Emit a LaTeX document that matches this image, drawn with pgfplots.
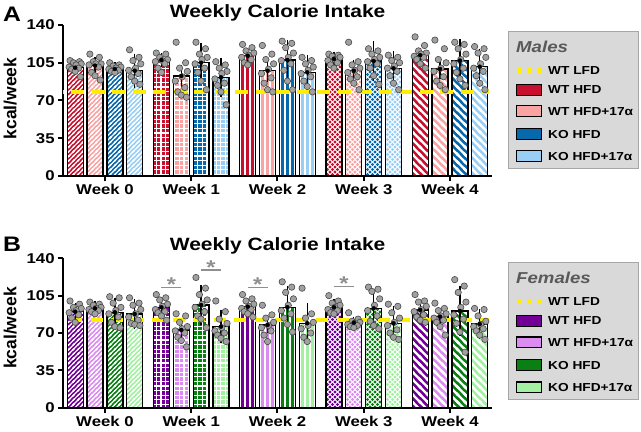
\documentclass[border=0pt]{standalone}
\usepackage{fontspec}
\setmainfont{Liberation Sans}[FakeStretch=1.18]
\newfontfamily\plainfont{Liberation Sans}
\usepackage{pgfplots}
\pgfplotsset{compat=1.18}
\usepackage{pgfplotstable}
\usetikzlibrary{patterns}

\definecolor{mA}{HTML}{C8102E}
\definecolor{mB}{HTML}{F9A3A3}
\definecolor{mC}{HTML}{0868AC}
\definecolor{mD}{HTML}{9ACFF5}
\definecolor{fA}{HTML}{720096}
\definecolor{fB}{HTML}{DC8CF0}
\definecolor{fC}{HTML}{0A7F14}
\definecolor{fD}{HTML}{A3F0A3}
\definecolor{ylw}{HTML}{FFEE00}
\definecolor{dotfill}{HTML}{A0A0A0}
\definecolor{dotdraw}{HTML}{484848}
\definecolor{sigc}{HTML}{8F8F8F}
\definecolor{legfill}{HTML}{D9D9D9}
\definecolor{legdraw}{HTML}{A6A6A6}
\definecolor{legtitle}{HTML}{595959}

\newcommand{\tickfont}{\bfseries\fontsize{14.2bp}{16bp}\selectfont}
\newcommand{\titlefont}{\bfseries\fontsize{17.8bp}{20bp}\selectfont}
\newcommand{\ylabfont}{\plainfont\bfseries\fontsize{17.5bp}{20bp}\selectfont}
\newcommand{\legfont}{\bfseries\fontsize{11.6bp}{13bp}\selectfont}
\newcommand{\legtitlefont}{\bfseries\itshape\fontsize{15.8bp}{18bp}\selectfont}
\newcommand{\panelfont}{\bfseries\fontsize{21bp}{24bp}\selectfont}
\newcommand{\starfont}{\bfseries\fontsize{20bp}{22bp}\selectfont}

% ---- custom form-only patterns ----
% week 0: thin "/" stripes
\pgfdeclarepatternformonly{wkA}{\pgfqpoint{-1bp}{-1bp}}{\pgfqpoint{5.6bp}{5.6bp}}{\pgfqpoint{4.6bp}{4.6bp}}{%
 \pgfsetlinewidth{1.2bp}%
 \pgfpathmoveto{\pgfqpoint{-1bp}{-1bp}}\pgfpathlineto{\pgfqpoint{5.6bp}{5.6bp}}%
 \pgfpathmoveto{\pgfqpoint{-1bp}{3.6bp}}\pgfpathlineto{\pgfqpoint{1bp}{5.6bp}}%
 \pgfpathmoveto{\pgfqpoint{3.6bp}{-1bp}}\pgfpathlineto{\pgfqpoint{5.6bp}{1bp}}%
 \pgfusepath{stroke}}
% week 1: grid
\pgfdeclarepatternformonly{wkB}{\pgfqpoint{-1bp}{-1bp}}{\pgfqpoint{5.6bp}{5.6bp}}{\pgfqpoint{4.6bp}{4.6bp}}{%
 \pgfsetlinewidth{1.05bp}%
 \pgfpathmoveto{\pgfqpoint{0bp}{-1bp}}\pgfpathlineto{\pgfqpoint{0bp}{5.6bp}}%
 \pgfpathmoveto{\pgfqpoint{-1bp}{0bp}}\pgfpathlineto{\pgfqpoint{5.6bp}{0bp}}%
 \pgfusepath{stroke}}
% week 2: vertical lines
\pgfdeclarepatternformonly{wkC}{\pgfqpoint{-1bp}{-1bp}}{\pgfqpoint{6bp}{6bp}}{\pgfqpoint{5bp}{5bp}}{%
 \pgfsetlinewidth{1.25bp}%
 \pgfpathmoveto{\pgfqpoint{0bp}{-1bp}}\pgfpathlineto{\pgfqpoint{0bp}{6bp}}%
 \pgfusepath{stroke}}
% week 3: staggered dots
\pgfdeclarepatternformonly{wkD}{\pgfqpoint{-2bp}{-2bp}}{\pgfqpoint{7bp}{7bp}}{\pgfqpoint{5bp}{5bp}}{%
 \pgfpathcircle{\pgfqpoint{0bp}{0bp}}{1.65bp}%
 \pgfpathcircle{\pgfqpoint{2.5bp}{2.5bp}}{1.65bp}%
 \pgfusepath{fill}}
% week 4: wide "\" stripes
\pgfdeclarepatternformonly{wkE}{\pgfqpoint{-1.5bp}{-1.5bp}}{\pgfqpoint{9bp}{9bp}}{\pgfqpoint{7.5bp}{7.5bp}}{%
 \pgfsetlinewidth{2.3bp}%
 \pgfpathmoveto{\pgfqpoint{-1.5bp}{9bp}}\pgfpathlineto{\pgfqpoint{9bp}{-1.5bp}}%
 \pgfpathmoveto{\pgfqpoint{-1.5bp}{1.5bp}}\pgfpathlineto{\pgfqpoint{1.5bp}{-1.5bp}}%
 \pgfpathmoveto{\pgfqpoint{6bp}{9bp}}\pgfpathlineto{\pgfqpoint{9bp}{6bp}}%
 \pgfusepath{stroke}}

% \mybar{x}{y}{fill colour}{pattern}{pattern colour}
\newcommand{\mybar}[5]{%
 \addplot[ybar, bar width=0.185, bar shift=0pt, draw=none, fill=#3, forget plot] coordinates {(#1,#2)};
 \addplot[ybar, bar width=0.185, bar shift=0pt, draw=black, line width=1.3bp,
   pattern=#4, pattern color=#5, forget plot] coordinates {(#1,#2)};}

\pgfplotsset{
 panel/.style={
  scale only axis, width=428.7bp,
  xmin=-0.483, xmax=4.487, ymin=0, ymax=140,
  axis x line*=bottom, axis y line*=left,
  axis line style={line width=2bp, -},
  xtick={0,1,2,3,4}, xticklabels={Week 0,Week 1,Week 2,Week 3,Week 4},
  ytick={0,35,70,105,140},
  major tick length=5.5bp, tick align=outside,
  tick style={line width=2bp, black},
  xticklabel style={font=\tickfont, inner sep=0pt, yshift=-3bp},
  yticklabel style={font=\tickfont, inner sep=0pt, xshift=-3bp},
  /pgf/number format/assume math mode=true,
  every axis title/.style={at={(0.5,1)}, anchor=base, font=\titlefont},
  ylabel style={anchor=center, font=\ylabfont},
  clip=false,
 },
 dotst/.style={only marks, mark=*, mark size=3.2bp,
   mark options={fill=dotfill, draw=dotdraw, line width=0.6bp}, forget plot},
 errst/.style={only marks, mark=none, forget plot,
   error bars/.cd, y dir=both, y explicit,
   error bar style={draw=black, line width=1.3bp},
   error mark options={draw=black, line width=1.3bp, mark size=4bp}},
}

% x = bar centre, m = mean, e = error, d1..d10 = individual animals
\pgfplotstableread{
x      m     e    d1  d2  d3  d4  d5  d6  d7  d8  d9  d10
-0.345 100.4 3.0  107 106 105 104 103 101 100 99  97  92
-0.115 102.3 4.0  113 110 106 104 104 103 101 96  93  89
0.115  99.2  3.0  105 103 102 101 100 99  98  97  96  nan
0.345  97.6  12.0 117 110 107 104 100 98  95  92  88  85
0.655  107.5 3.0  114 113 110 108 107 106 104 100 96  nan
0.885  92.7  6.5  124 105 100 97  92  88  82  78  75  73
1.115  105.0 15.0 124 118 113 110 108 104 100 96  88  80
1.345  91.5  14.5 106 103 100 97  95  90  86  84  78  66
1.655  111.5 3.0  122 119 116 114 112 110 108 105 103 nan
1.885  97.6  6.5  121 113 108 104 99  95  91  86  80  78
2.115  107.5 15.0 125 123 119 114 110 107 104 98  88  80
2.345  96.1  12.0 110 107 104 101 98  95  92  88  83  78
2.655  108.5 3.0  113 112 111 110 108 107 105 103 100 nan
2.885  97.6  6.5  124 106 103 100 98  96  92  90  86  80
3.115  106.6 15.0 118 116 113 110 108 106 104 100 93  85
3.345  99.8  12.0 112 110 107 105 102 100 97  93  86  80
3.655  112.0 3.0  129 121 116 114 113 111 110 108 104 100
3.885  99.2  6.0  126 118 108 105 100 97  92  88  84  80
4.115  107.0 16.0 124 122 118 113 108 104 100 96  90  84
4.345  101.3 13.0 120 118 114 110 104 100 97  93  86  80
}\maleT

\pgfplotstableread{
x      m     e    d1  d2  d3  d4  d5  d6  d7  d8  d9  d10
-0.345 90.0  4.0  100 97  94  93  91  89  87  84  80  nan
-0.115 93.1  3.0  99  97  96  94  93  92  91  90  88  nan
0.115  89.4  10.0 104 103 98  94  91  88  85  80  76  75
0.345  87.8  10.0 103 98  96  92  88  85  82  79  78  77
0.655  94.1  4.0  106 103 101 97  95  92  90  89  86  82
0.885  72.8  5.0  88  86  80  76  74  72  70  66  63  57
1.115  96.2  15.0 122 112 106 101 97  94  90  86  83  75
1.345  76.0  12.0 100 90  83  79  75  72  70  68  65  62
1.655  94.7  4.0  106 102 100 97  95  93  92  90  88  85
1.885  77.5  4.0  96  87  84  80  77  75  72  68  62  nan
2.115  94.1  16.0 118 113 108 102 96  91  88  84  78  71
2.345  79.1  15.0 112 88  84  80  77  74  70  66  62  nan
2.655  94.1  4.0  105 100 98  96  94  92  91  89  88  nan
2.885  79.7  2.0  89  83  81  80  79  78  77  76  75  nan
3.115  93.1  14.0 113 111 109 102 96  91  86  81  77  74
3.345  79.1  12.0 97  95  89  84  80  77  73  70  66  64
3.655  91.6  4.0  106 100 99  95  92  90  87  85  82  80
3.885  85.3  3.0  98  93  91  88  86  84  82  80  76  68
4.115  90.6  20.0 120 114 108 99  94  87  83  79  71  52
4.345  78.4  10.0 93  92  86  81  78  76  74  72  68  64
}\femaleT

\newcommand{\animaldots}[1]{%
 \addplot[dotst] table[x expr=\thisrow{x}-0.06, y=d1] {#1};
 \addplot[dotst] table[x expr=\thisrow{x}+0.05, y=d2] {#1};
 \addplot[dotst] table[x expr=\thisrow{x}-0.02, y=d3] {#1};
 \addplot[dotst] table[x expr=\thisrow{x}+0.07, y=d4] {#1};
 \addplot[dotst] table[x expr=\thisrow{x}+0.01, y=d5] {#1};
 \addplot[dotst] table[x expr=\thisrow{x}-0.07, y=d6] {#1};
 \addplot[dotst] table[x expr=\thisrow{x}+0.04, y=d7] {#1};
 \addplot[dotst] table[x expr=\thisrow{x}-0.04, y=d8] {#1};
 \addplot[dotst] table[x expr=\thisrow{x}+0.00, y=d9] {#1};
 \addplot[dotst] table[x expr=\thisrow{x}+0.06, y=d10] {#1};
}

\newcommand{\swatch}[3]{%
 \draw[fill=#2, draw=black, line width=1.2bp] (516.7bp,#1bp-5.4bp) rectangle (541.7bp,#1bp+5.4bp);
 \node[anchor=west, inner sep=0pt, font=\legfont] at (548bp,#1bp) {#3};}

\begin{document}
\begin{tikzpicture}
% ---------------- Panel A : males ----------------
\begin{axis}[panel, at={(63.3bp,256bp)}, anchor=south west, height=151bp,
  title={Weekly Calorie Intake}, title style={yshift=7bp},
  ylabel={kcal/week}, ylabel style={at={(axis description cs:-0.124,0.513)}}]
 \mybar{-0.345}{100.4}{mA}{wkA}{white} \mybar{-0.115}{102.3}{mB}{wkA}{white}
 \mybar{0.115}{99.2}{mC}{wkA}{white}   \mybar{0.345}{97.6}{mD}{wkA}{white}
 \mybar{0.655}{107.5}{mA}{wkB}{white}  \mybar{0.885}{92.7}{mB}{wkB}{white}
 \mybar{1.115}{105.0}{mC}{wkB}{white}  \mybar{1.345}{91.5}{mD}{wkB}{white}
 \mybar{1.655}{111.5}{mA}{wkC}{white}  \mybar{1.885}{97.6}{mB}{wkC}{white}
 \mybar{2.115}{107.5}{mC}{wkC}{white}  \mybar{2.345}{96.1}{mD}{wkC}{white}
 \mybar{2.655}{108.5}{white}{wkD}{mA}  \mybar{2.885}{97.6}{white}{wkD}{mB}
 \mybar{3.115}{106.6}{white}{wkD}{mC}  \mybar{3.345}{99.8}{white}{wkD}{mD}
 \mybar{3.655}{112.0}{mA}{wkE}{white}  \mybar{3.885}{99.2}{mB}{wkE}{white}
 \mybar{4.115}{107.0}{mC}{wkE}{white}  \mybar{4.345}{101.3}{mD}{wkE}{white}
 \addplot[ylw, line width=4bp, dash pattern=on 13bp off 7.5bp, dash phase=12.8bp, forget plot]
   coordinates {(-0.483,78.2) (4.45,78.2)};
 \animaldots{\maleT}
 \addplot[errst] table[x=x, y=m, y error=e] {\maleT};
\end{axis}
% ---------------- Panel B : females ----------------
\begin{axis}[panel, at={(63.3bp,24.3bp)}, anchor=south west, height=149.4bp,
  title={Weekly Calorie Intake}, title style={yshift=8bp},
  ylabel={kcal/week}, ylabel style={at={(axis description cs:-0.124,0.533)}}]
 \mybar{-0.345}{90.0}{fA}{wkA}{white} \mybar{-0.115}{93.1}{fB}{wkA}{white}
 \mybar{0.115}{89.4}{fC}{wkA}{white}  \mybar{0.345}{87.8}{fD}{wkA}{white}
 \mybar{0.655}{94.1}{fA}{wkB}{white}  \mybar{0.885}{72.8}{fB}{wkB}{white}
 \mybar{1.115}{96.2}{fC}{wkB}{white}  \mybar{1.345}{76.0}{fD}{wkB}{white}
 \mybar{1.655}{94.7}{fA}{wkC}{white}  \mybar{1.885}{77.5}{fB}{wkC}{white}
 \mybar{2.115}{94.1}{fC}{wkC}{white}  \mybar{2.345}{79.1}{fD}{wkC}{white}
 \mybar{2.655}{94.1}{white}{wkD}{fA}  \mybar{2.885}{79.7}{white}{wkD}{fB}
 \mybar{3.115}{93.1}{white}{wkD}{fC}  \mybar{3.345}{79.1}{white}{wkD}{fD}
 \mybar{3.655}{91.6}{fA}{wkE}{white}  \mybar{3.885}{85.3}{fB}{wkE}{white}
 \mybar{4.115}{90.6}{fC}{wkE}{white}  \mybar{4.345}{78.4}{fD}{wkE}{white}
 \addplot[ylw, line width=4bp, dash pattern=on 12bp off 8.5bp, dash phase=13.8bp, forget plot]
   coordinates {(-0.483,82.2) (4.45,82.2)};
 \animaldots{\femaleT}
 \addplot[errst] table[x=x, y=m, y error=e] {\femaleT};
 % significance marks
 \addplot[sigc, line width=1.6bp, forget plot] coordinates {(0.655,112.8) (0.885,112.8)};
 \addplot[sigc, line width=1.6bp, forget plot] coordinates {(1.115,129.0) (1.345,129.0)};
 \addplot[sigc, line width=1.6bp, forget plot] coordinates {(1.655,112.8) (1.885,112.8)};
 \addplot[sigc, line width=1.6bp, forget plot] coordinates {(2.655,113.4) (2.885,113.4)};
 \node[text=sigc, font=\starfont, anchor=base, inner sep=0pt] at (axis cs:0.77,108.8) {*};
 \node[text=sigc, font=\starfont, anchor=base, inner sep=0pt] at (axis cs:1.23,125.0) {*};
 \node[text=sigc, font=\starfont, anchor=base, inner sep=0pt] at (axis cs:1.77,108.8) {*};
 \node[text=sigc, font=\starfont, anchor=base, inner sep=0pt] at (axis cs:2.77,109.4) {*};
\end{axis}
% panel letters
\node[anchor=base west, inner sep=0pt, font=\panelfont] at (3bp,410.3bp) {A};
\node[anchor=base west, inner sep=0pt, font=\panelfont] at (3bp,180.3bp) {B};
% legend males
\draw[fill=legfill, draw=legdraw, line width=1bp] (508bp,263bp) rectangle (638bp,400bp);
\node[anchor=base west, inner sep=0pt, text=legtitle, font=\legtitlefont] at (516bp,379bp) {Males};
\draw[ylw, line width=5bp, dash pattern=on 5bp off 5bp] (516.7bp,361bp) -- (543bp,361bp);
\node[anchor=west, inner sep=0pt, font=\legfont] at (548bp,361bp) {WT LFD};
\swatch{342}{mA}{WT HFD}
\swatch{320.7}{mB}{WT HFD+17α}
\swatch{297.8}{mC}{KO HFD}
\swatch{275.8}{mD}{KO HFD+17α}
% legend females
\draw[fill=legfill, draw=legdraw, line width=1bp] (508bp,32bp) rectangle (638bp,169bp);
\node[anchor=base west, inner sep=0pt, text=legtitle, font=\legtitlefont] at (516bp,148.7bp) {Females};
\draw[ylw, line width=5bp, dash pattern=on 5bp off 5bp] (516.7bp,130bp) -- (543bp,130bp);
\node[anchor=west, inner sep=0pt, font=\legfont] at (548bp,130bp) {WT LFD};
\swatch{111}{fA}{WT HFD}
\swatch{89.5}{fB}{WT HFD+17α}
\swatch{66.7}{fC}{KO HFD}
\swatch{44.5}{fD}{KO HFD+17α}
\pgfresetboundingbox
\path[use as bounding box] (0,0) rectangle (641bp,432bp);
\end{tikzpicture}
\end{document}
